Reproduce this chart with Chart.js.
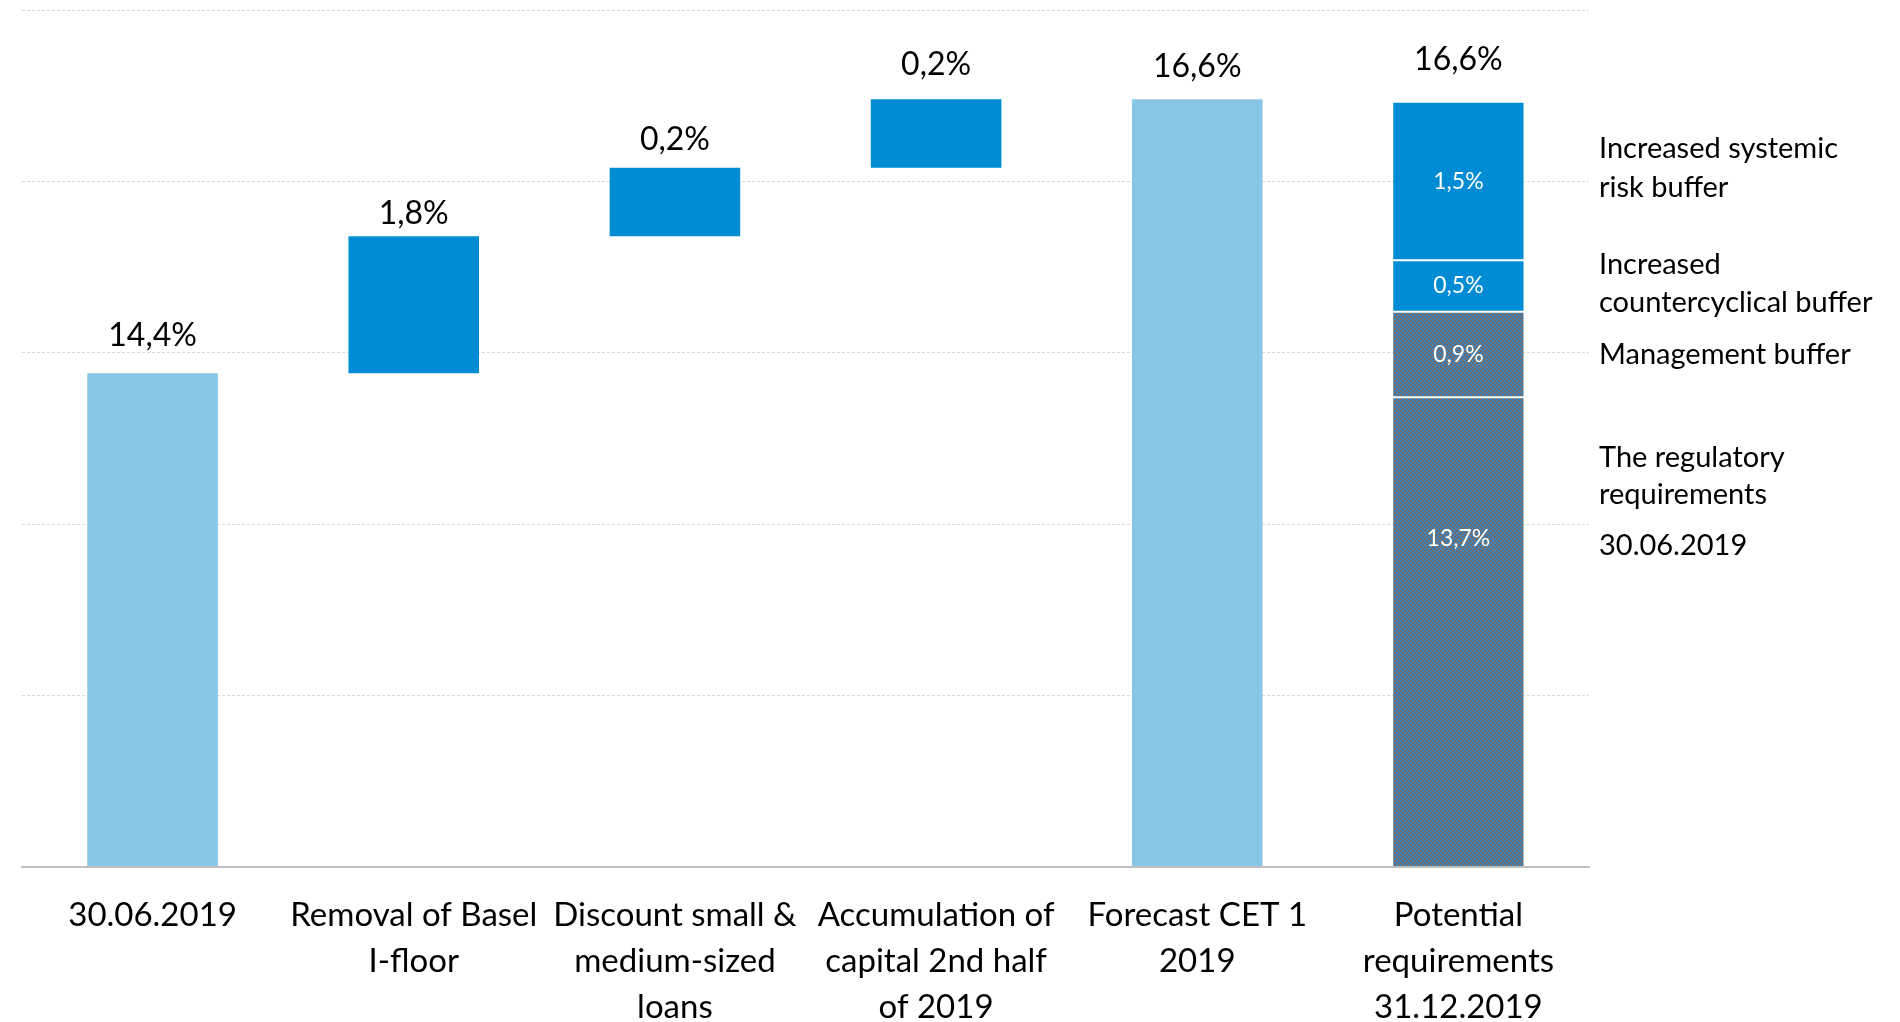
<!DOCTYPE html>
<html>
<head>
<meta charset="utf-8">
<script src="https://cdn.jsdelivr.net/npm/chart.js@4"></script>
<style>
    html, body { margin: 0; padding: 0; background: #fff; overflow: hidden; }
    #wrap { width: 1900px; height: 1022px; }
</style>
</head>
<body>
<div id="wrap"><canvas id="myChart" width="1900" height="1022"></canvas></div>
<script>
// categories along the x axis
const categories = [
    ['30.06.2019'],
    ['Removal of Basel', 'I-floor'],
    ['Discount small &', 'medium-sized', 'loans'],
    ['Accumulation of', 'capital 2nd half', 'of 2019'],
    ['Forecast CET 1', '2019'],
    ['Potential', 'requirements', '31.12.2019']
];

// waterfall bars as drawn (axis units, gridlines every 5)
const barFrom = [0, 14.4, 18.4, 20.4, 0];
const barTo = [14.4, 18.4, 20.4, 22.4, 22.4];
const barKind = ['total', 'step', 'step', 'step', 'total'];
const barText = ['14,4%', '1,8%', '0,2%', '0,2%', '16,6%'];

// last bar, stacked from the bottom
const segmentValues = [13.7, 2.5, 1.5, 4.6];
const segmentText = ['13,7%', '0,9%', '0,5%', '1,5%'];
const segmentNames = ['The regulatory requirements 30.06.2019', 'Management buffer',
    'Increased countercyclical buffer', 'Increased systemic risk buffer'];
const stackTotalText = '16,6%';

const yTicks = [0, 5, 10, 15, 20, 25];

const LIGHT = '#88c6e5';
const DARK = '#008cd4';

function checker() {
    const c = document.createElement('canvas');
    c.width = 4; c.height = 4;
    const g = c.getContext('2d');
    g.fillStyle = '#766b68';
    g.fillRect(0, 0, 4, 4);
    g.fillStyle = '#3884bf';
    g.fillRect(0, 0, 2, 2);
    g.fillRect(2, 2, 2, 2);
    return g.createPattern(c, 'repeat');
}
const pattern = checker();

const lastIdx = categories.length - 1;
function only(kind) {
    return categories.map((c, i) => barKind[i] === kind ? [barFrom[i], barTo[i]] : null);
}

const datasets = [
    { label: 'Total', data: only('total'), backgroundColor: LIGHT },
    { label: 'Change', data: only('step'), backgroundColor: DARK }
];
let acc = 0;
segmentValues.forEach((v, k) => {
    const data = categories.map(() => null);
    data[lastIdx] = [acc, acc + v];
    acc += v;
    datasets.push({
        label: segmentNames[k],
        data: data,
        backgroundColor: k < 2 ? pattern : DARK,
        borderColor: '#ffffff',
        borderWidth: { top: k === segmentValues.length - 1 ? 0 : 1, bottom: k === 0 ? 0 : 1, left: 0, right: 0 },
        borderSkipped: false
    });
});

// right side notes, baseline in axis units
const notes = [
    { text: 'Increased systemic', y: 20.68 },
    { text: 'risk buffer', y: 19.55 },
    { text: 'Increased', y: 17.30 },
    { text: 'countercyclical buffer', y: 16.19 },
    { text: 'Management buffer', y: 14.67 },
    { text: 'The regulatory', y: 11.67 },
    { text: 'requirements', y: 10.59 },
    { text: '30.06.2019', y: 9.10 }
];
const labelGap = [27, 12, 18, 24, 22];

const labelsPlugin = {
    id: 'labels',
    afterDatasetsDraw(chart) {
        const ctx = chart.ctx;
        const y = chart.scales.y;
        ctx.save();
        ctx.fillStyle = '#000';
        ctx.textAlign = 'center';
        ctx.textBaseline = 'alphabetic';
        ctx.font = '32px Lato';
        const m0 = chart.getDatasetMeta(0).data;
        const m1 = chart.getDatasetMeta(1).data;
        barText.forEach((t, i) => {
            const el = barKind[i] === 'total' ? m0[i] : m1[i];
            const top = Math.min(el.y, el.base);
            ctx.fillText(t, el.x, top - labelGap[i]);
        });
        const topSeg = chart.getDatasetMeta(datasets.length - 1).data[lastIdx];
        ctx.fillText(stackTotalText, topSeg.x, Math.min(topSeg.y, topSeg.base) - 33);

        // values inside the stacked bar
        ctx.fillStyle = '#fff';
        ctx.font = '23px Lato';
        ctx.textBaseline = 'middle';
        segmentText.forEach((t, k) => {
            const el = chart.getDatasetMeta(2 + k).data[lastIdx];
            const f = k === 0 ? 0.7 : 0.5;
            ctx.fillText(t, el.x, el.base + (el.y - el.base) * f);
        });

        // notes on the right
        ctx.fillStyle = '#000';
        ctx.textAlign = 'left';
        ctx.textBaseline = 'alphabetic';
        ctx.font = '29px Lato';
        notes.forEach(n => {
            ctx.fillText(n.text, chart.chartArea.right + 10, y.getPixelForValue(n.y));
        });
        ctx.restore();
    }
};

new Chart(document.getElementById('myChart'), {
    type: 'bar',
    data: { labels: categories, datasets: datasets },
    options: {
        responsive: false,
        animation: false,
        layout: { padding: { left: 22, right: 311, top: 10, bottom: 0 } },
        datasets: { bar: { barPercentage: 0.5, categoryPercentage: 1 } },
        plugins: { legend: { display: false }, tooltip: { enabled: false } },
        scales: {
            x: {
                stacked: true,
                grid: { display: false },
                border: { display: true, color: '#bfbfbf', width: 2, z: 1 },
                ticks: {
                    autoSkip: false, maxRotation: 0, minRotation: 0, padding: 17,
                    color: '#000', font: { family: 'Lato', size: 33, lineHeight: 1.4 }
                },
                afterFit(scale) { scale.height = 155; }
            },
            y: {
                min: 0, max: 25,
                afterBuildTicks(scale) { scale.ticks = yTicks.map(v => ({ value: v })); },
                ticks: { display: false },
                grid: { color: '#d9d9d9', lineWidth: 1, drawTicks: false },
                border: { display: false, dash: [3, 2] },
                afterFit(scale) { scale.width = 0; }
            }
        }
    },
    plugins: [labelsPlugin]
});
</script>
</body>
</html>
